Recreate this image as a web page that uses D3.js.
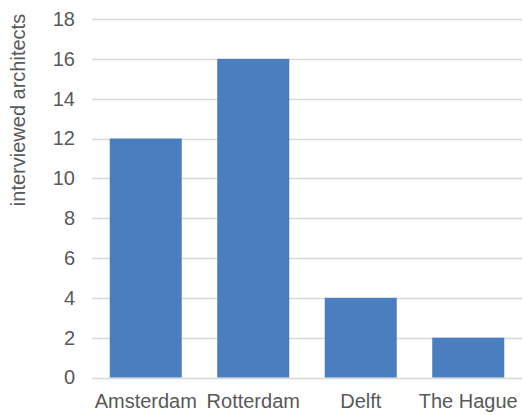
<!DOCTYPE html>
<html>
<head>
<meta charset="utf-8">
<script src="https://cdn.jsdelivr.net/npm/d3@7"></script>
<style>
  html, body { margin: 0; padding: 0; background: #fff; }
  svg { display: block; }
  text { font-family: "Liberation Sans", Arial, sans-serif; fill: #595959; }
</style>
</head>
<body>
<svg id="chart" width="523" height="415"></svg>
<script>
// Interviewed architects per city
const cities = ["Amsterdam", "Rotterdam", "Delft", "The Hague"];
const architects = [12, 16, 4, 2];
const yTicks = [0, 2, 4, 6, 8, 10, 12, 14, 16, 18];
const yTitle = "interviewed architects";

const W = 523, H = 415;
const margin = { top: 19, right: 1, bottom: 37.5, left: 92 };
const innerW = W - margin.left - margin.right;
const innerH = H - margin.top - margin.bottom;
const fontSize = 20;

const svg = d3.select("#chart");
const g = svg.append("g").attr("transform", `translate(${margin.left},${margin.top})`);

const x = d3.scaleBand().domain(cities).range([0, innerW]).paddingInner(0.33).paddingOuter(0.165);
const y = d3.scaleLinear().domain([0, 18]).range([innerH, 0]);

// horizontal gridlines
g.append("g")
  .selectAll("line")
  .data(yTicks)
  .join("line")
  .attr("x1", 0).attr("x2", innerW)
  .attr("y1", d => Math.round(y(d)) + 0.5)
  .attr("y2", d => Math.round(y(d)) + 0.5)
  .attr("stroke", "#d9d9d9")
  .attr("stroke-width", 1.3);

// bars
g.append("g")
  .selectAll("rect")
  .data(cities)
  .join("rect")
  .attr("x", d => x(d))
  .attr("width", x.bandwidth())
  .attr("y", (d, i) => y(architects[i]))
  .attr("height", (d, i) => y(0) - y(architects[i]))
  .attr("fill", "#4a7ebf");

// y axis labels
const yAxis = d3.axisLeft(y).tickValues(yTicks).tickSize(0).tickPadding(17);
const ya = g.append("g").call(yAxis);
ya.select(".domain").remove();
ya.attr("font-size", fontSize).attr("font-family", "Liberation Sans, Arial, sans-serif");
ya.selectAll("text").style("fill", "#595959");

// x axis labels
const xAxis = d3.axisBottom(x).tickSize(0).tickPadding(16);
const xa = g.append("g").attr("transform", `translate(0,${innerH})`).call(xAxis);
xa.select(".domain").remove();
xa.attr("font-size", fontSize).attr("font-family", "Liberation Sans, Arial, sans-serif");
xa.selectAll("text").style("fill", "#595959");

// y axis title
svg.append("text")
  .attr("transform", "translate(25,110) rotate(-90)")
  .attr("text-anchor", "middle")
  .attr("font-size", fontSize)
  .text(yTitle);
</script>
</body>
</html>
